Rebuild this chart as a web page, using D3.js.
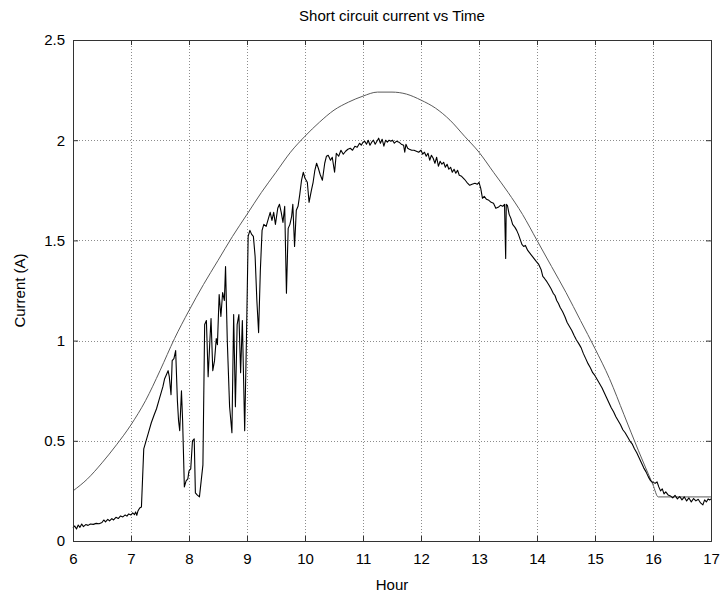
<!DOCTYPE html>
<html>
<head>
<meta charset="utf-8">
<script src="https://cdn.jsdelivr.net/npm/d3@7"></script>
<style>
	body { margin: 0; background: #fff; }
	svg { display: block; font-family: "Liberation Sans", Arial, sans-serif; }
</style>
</head>
<body>
<div id="playground"></div>
<script>
const xTicks = [6, 7, 8, 9, 10, 11, 12, 13, 14, 15, 16, 17];
const yTicks = [0, 0.5, 1, 1.5, 2, 2.5];

// model curve (hour, A)
const modelHour = [6, 6.25, 6.5, 6.75, 7, 7.25, 7.5, 7.75, 8, 8.25, 8.5, 8.75, 9, 9.25, 9.5, 9.75, 10, 10.25, 10.5, 10.75, 11, 11.25, 11.5, 11.75, 12, 12.25, 12.5, 12.75, 13, 13.25, 13.5, 13.75, 14, 14.25, 14.5, 14.75, 15, 15.25, 15.5, 15.75, 16, 16.09, 17];
const modelAmps = [0.25, 0.31, 0.39, 0.48, 0.58, 0.70, 0.85, 1.01, 1.15, 1.28, 1.40, 1.52, 1.63, 1.74, 1.84, 1.94, 2.02, 2.09, 2.15, 2.19, 2.22, 2.24, 2.24, 2.23, 2.20, 2.16, 2.10, 2.02, 1.94, 1.84, 1.74, 1.63, 1.50, 1.37, 1.24, 1.10, 0.96, 0.81, 0.63, 0.45, 0.28, 0.22, 0.22];

// measured short circuit current
const measHour = [
	6.00, 6.03, 6.06, 6.09, 6.12, 6.15, 6.18, 6.22, 6.26, 6.30, 6.35, 6.40, 6.45, 6.50, 6.53, 6.56, 6.60, 6.63, 6.67, 6.70,
	6.74, 6.78, 6.82, 6.86, 6.90, 6.93, 6.96, 7.00, 7.03, 7.06, 7.08, 7.10, 7.12, 7.15, 7.18, 7.22, 7.26, 7.30, 7.35, 7.40,
	7.44, 7.48, 7.52, 7.55, 7.58, 7.61, 7.64, 7.66, 7.69, 7.71, 7.74, 7.77, 7.80, 7.82, 7.84, 7.87, 7.89, 7.92, 7.95, 7.98,
	8.00, 8.03, 8.06, 8.09, 8.11, 8.14, 8.18, 8.21, 8.24, 8.27, 8.30, 8.33, 8.36, 8.38, 8.41, 8.44, 8.47, 8.49, 8.52, 8.55,
	8.58, 8.61, 8.63, 8.66, 8.70, 8.74, 8.77, 8.80, 8.83, 8.86, 8.89, 8.92, 8.96, 8.99, 9.02, 9.05, 9.08, 9.11, 9.14, 9.17,
	9.20, 9.23, 9.26, 9.29, 9.33, 9.37, 9.40, 9.43, 9.46, 9.49, 9.53, 9.56, 9.59, 9.62, 9.65, 9.68, 9.71, 9.74, 9.77, 9.79,
	9.82, 9.85, 9.88, 9.91, 9.94, 9.97, 10.00, 10.04, 10.07, 10.11, 10.14, 10.17, 10.20, 10.23, 10.26, 10.30, 10.34, 10.37, 10.40, 10.44,
	10.47, 10.51, 10.54, 10.58, 10.62, 10.66, 10.70, 10.74, 10.78, 10.82, 10.86, 10.90, 10.94, 10.97, 11.00, 11.03, 11.06, 11.09, 11.12, 11.15,
	11.18, 11.21, 11.24, 11.27, 11.30, 11.33, 11.36, 11.39, 11.42, 11.45, 11.48, 11.51, 11.54, 11.58, 11.62, 11.66, 11.70, 11.72, 11.74, 11.77,
	11.80, 11.84, 11.88, 11.92, 11.96, 12.00, 12.03, 12.06, 12.09, 12.12, 12.15, 12.18, 12.21, 12.24, 12.27, 12.30, 12.33, 12.36, 12.39, 12.42,
	12.45, 12.48, 12.51, 12.54, 12.57, 12.60, 12.63, 12.66, 12.70, 12.75, 12.79, 12.84, 12.88, 12.93, 12.97, 13.00, 13.03, 13.06, 13.09, 13.13,
	13.17, 13.21, 13.25, 13.29, 13.33, 13.37, 13.41, 13.44, 13.46, 13.47, 13.49, 13.52, 13.55, 13.58, 13.62, 13.65, 13.68, 13.71, 13.74, 13.77,
	13.80, 13.84, 13.88, 13.92, 13.96, 13.99, 14.03, 14.07, 14.10, 14.13, 14.17, 14.20, 14.24, 14.28, 14.31, 14.34, 14.37, 14.40, 14.44, 14.48,
	14.52, 14.56, 14.60, 14.64, 14.68, 14.72, 14.76, 14.80, 14.84, 14.88, 14.92, 14.96, 15.00, 15.04, 15.08, 15.12, 15.16, 15.20, 15.24, 15.28,
	15.32, 15.36, 15.40, 15.44, 15.48, 15.52, 15.56, 15.60, 15.64, 15.68, 15.72, 15.76, 15.80, 15.84, 15.88, 15.92, 15.96, 16.00, 16.04, 16.07,
	16.10, 16.13, 16.16, 16.19, 16.22, 16.26, 16.30, 16.34, 16.38, 16.42, 16.46, 16.50, 16.54, 16.58, 16.62, 16.66, 16.70, 16.74, 16.78, 16.82,
	16.86, 16.89, 16.92, 16.95, 16.98, 17.00
];
const measAmps = [
	0.065, 0.075, 0.060, 0.080, 0.068, 0.085, 0.072, 0.082, 0.078, 0.085, 0.083, 0.088, 0.086, 0.092, 0.105, 0.095, 0.108, 0.100, 0.112, 0.105,
	0.118, 0.112, 0.125, 0.120, 0.130, 0.124, 0.135, 0.130, 0.140, 0.132, 0.145, 0.128, 0.150, 0.165, 0.170, 0.460, 0.500, 0.540, 0.590, 0.630,
	0.660, 0.700, 0.740, 0.770, 0.810, 0.830, 0.850, 0.820, 0.730, 0.900, 0.910, 0.950, 0.700, 0.600, 0.550, 0.750, 0.600, 0.270, 0.300, 0.310,
	0.350, 0.360, 0.500, 0.510, 0.240, 0.230, 0.220, 0.300, 0.380, 1.080, 1.100, 0.820, 1.000, 1.110, 0.850, 0.900, 1.010, 0.980, 1.230, 1.120,
	1.240, 1.200, 1.370, 1.000, 0.670, 0.540, 1.130, 0.670, 1.080, 1.130, 0.840, 1.100, 0.550, 1.000, 1.520, 1.550, 1.530, 1.520, 1.420, 1.200,
	1.040, 1.350, 1.550, 1.580, 1.570, 1.610, 1.640, 1.600, 1.640, 1.580, 1.660, 1.680, 1.640, 1.590, 1.670, 1.236, 1.560, 1.580, 1.620, 1.680,
	1.470, 1.650, 1.670, 1.730, 1.800, 1.840, 1.810, 1.790, 1.690, 1.750, 1.790, 1.850, 1.885, 1.860, 1.830, 1.800, 1.885, 1.920, 1.925, 1.900,
	1.915, 1.840, 1.935, 1.920, 1.950, 1.930, 1.945, 1.955, 1.960, 1.950, 1.970, 1.965, 1.985, 1.975, 1.990, 1.995, 1.980, 2.000, 1.975, 1.990,
	2.000, 1.980, 1.995, 2.010, 1.985, 2.005, 1.970, 2.000, 1.990, 2.000, 1.995, 2.000, 1.985, 1.995, 1.990, 1.980, 1.975, 1.940, 1.980, 1.960,
	1.955, 1.950, 1.950, 1.945, 1.940, 1.950, 1.930, 1.940, 1.920, 1.935, 1.900, 1.925, 1.910, 1.885, 1.915, 1.870, 1.895, 1.880, 1.890, 1.865,
	1.880, 1.855, 1.865, 1.840, 1.855, 1.835, 1.850, 1.825, 1.820, 1.805, 1.790, 1.775, 1.780, 1.785, 1.780, 1.790, 1.760, 1.710, 1.720, 1.705,
	1.700, 1.690, 1.685, 1.660, 1.665, 1.675, 1.670, 1.680, 1.410, 1.680, 1.675, 1.630, 1.610, 1.580, 1.565, 1.550, 1.530, 1.505, 1.480, 1.470,
	1.475, 1.450, 1.435, 1.420, 1.405, 1.394, 1.380, 1.355, 1.320, 1.310, 1.294, 1.280, 1.260, 1.236, 1.225, 1.200, 1.185, 1.165, 1.145, 1.120,
	1.090, 1.070, 1.050, 1.025, 1.003, 0.985, 0.965, 0.935, 0.910, 0.885, 0.865, 0.840, 0.825, 0.805, 0.785, 0.765, 0.740, 0.715, 0.690, 0.665,
	0.645, 0.620, 0.600, 0.580, 0.555, 0.540, 0.520, 0.500, 0.485, 0.460, 0.440, 0.415, 0.390, 0.365, 0.345, 0.320, 0.300, 0.292, 0.288, 0.295,
	0.270, 0.250, 0.260, 0.235, 0.245, 0.230, 0.225, 0.215, 0.228, 0.210, 0.222, 0.205, 0.220, 0.200, 0.215, 0.195, 0.212, 0.200, 0.208, 0.190,
	0.180, 0.205, 0.195, 0.210, 0.205, 0.210
];

const W = 723, H = 599;
const margin = { top: 40, right: 12, bottom: 58, left: 73 };

const svg = d3.select('#playground').append('svg')
	.attr('width', W)
	.attr('height', H);

const x = d3.scaleLinear()
	.domain([6, 17])
	.range([margin.left, W - margin.right]);

const y = d3.scaleLinear()
	.domain([0, 2.5])
	.range([H - margin.bottom, margin.top]);

// dotted grid
const grid = svg.append('g')
	.attr('stroke', '#8c8c8c')
	.attr('stroke-width', 1)
	.attr('stroke-dasharray', '1,2');

grid.selectAll('line.gx')
	.data(xTicks.slice(1, -1))
	.enter().append('line')
	.attr('x1', d => Math.round(x(d)) + 0.5)
	.attr('x2', d => Math.round(x(d)) + 0.5)
	.attr('y1', y(2.5))
	.attr('y2', y(0));

grid.selectAll('line.gy')
	.data(yTicks.slice(1, -1))
	.enter().append('line')
	.attr('y1', d => Math.round(y(d)) + 0.5)
	.attr('y2', d => Math.round(y(d)) + 0.5)
	.attr('x1', x(6))
	.attr('x2', x(17));

// series
const line = d3.line()
	.x(d => x(d[0]))
	.y(d => y(d[1]));

svg.append('path')
	.datum(d3.zip(modelHour, modelAmps))
	.attr('fill', 'none')
	.attr('stroke', '#5a5a5a')
	.attr('stroke-width', 1)
	.attr('d', line.curve(d3.curveMonotoneX));

svg.append('path')
	.datum(d3.zip(measHour, measAmps))
	.attr('fill', 'none')
	.attr('stroke', '#000')
	.attr('stroke-width', 1.1)
	.attr('stroke-linejoin', 'round')
	.attr('d', line.curve(d3.curveLinear));

// axes, ticks inside on all four sides
const tick = 5;

svg.append('g')
	.attr('transform', `translate(0,${y(0)})`)
	.call(d3.axisBottom(x).tickValues(xTicks).tickSize(-tick).tickPadding(12));

svg.append('g')
	.attr('transform', `translate(0,${y(2.5)})`)
	.call(d3.axisTop(x).tickValues(xTicks).tickSize(-tick).tickFormat(''));

svg.append('g')
	.attr('transform', `translate(${x(6)},0)`)
	.call(d3.axisLeft(y).tickValues(yTicks).tickSize(-tick).tickPadding(8).tickFormat(d3.format('')));

svg.append('g')
	.attr('transform', `translate(${x(17)},0)`)
	.call(d3.axisRight(y).tickValues(yTicks).tickSize(-tick).tickFormat(''));

svg.selectAll('.domain').attr('stroke', '#333');
svg.selectAll('.tick line').attr('stroke', '#333');
svg.selectAll('.tick text')
	.attr('font-family', '"Liberation Sans", Arial, sans-serif')
	.attr('font-size', 15)
	.attr('fill', '#000');

// labels
svg.append('text')
	.attr('x', x(11.5))
	.attr('y', 21)
	.attr('text-anchor', 'middle')
	.attr('font-size', 15)
	.text('Short circuit current vs Time');

svg.append('text')
	.attr('x', x(11.5))
	.attr('y', 590)
	.attr('text-anchor', 'middle')
	.attr('font-size', 15)
	.text('Hour');

svg.append('text')
	.attr('transform', `translate(25,${y(1.25)}) rotate(-90)`)
	.attr('text-anchor', 'middle')
	.attr('font-size', 15)
	.text('Current (A)');
</script>
</body>
</html>
